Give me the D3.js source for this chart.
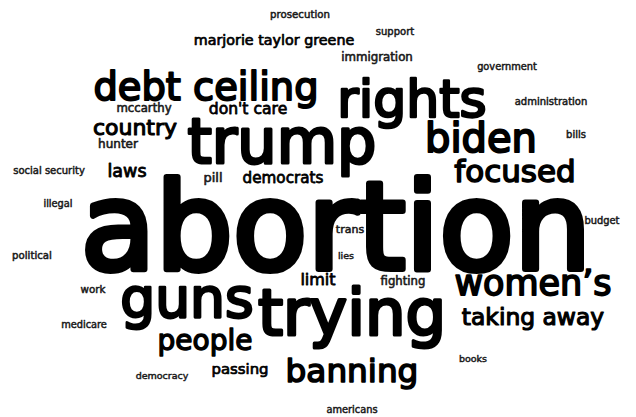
<!DOCTYPE html>
<html>
<head>
<meta charset="utf-8">
<script src="https://cdn.jsdelivr.net/npm/d3@7"></script>
<style>
html,body{margin:0;padding:0;background:#fff;}
svg{display:block;}
</style>
</head>
<body>
<svg id="chart" width="636" height="417"></svg>
<script>
// Data: words and their weights (frequency shown as font size)
const words = ["abortion","trump","rights","debt ceiling","biden","focused","guns","trying","women’s",
  "taking away","people","banning","country","laws","democrats","don't care","marjorie taylor greene",
  "passing","limit","immigration","mccarthy","hunter","pill","fighting","trans","lies","prosecution",
  "support","government","administration","bills","social security","illegal","budget","political",
  "work","medicare","democracy","books","americans"];
const weights = [122,62,52,38.4,40,31,55,64,35,
  23.4,28,32.7,22,17.5,15.2,15.6,14.3,
  14.9,16,11.8,11.7,12,12.9,11.7,11,9.5,10.2,
  10,9.8,10,10,10,9.8,9.9,10.2,
  10.3,9.8,9.5,9.5,9.8];

// Layout (cloud placement): word centre x and baseline y in the 636x417 frame
const layoutX = [336,282,412,206,481,515,187,352,533,
  533,205,352,135,127,283,248,274,
  240,318,377,144,118,213,403,350,346,300,
  395,507,551,576,49,58,602,32,
  93,84,162,473,352];
const layoutY = [269,163,117,100,152,182,317,335,295,
  325,350,382,135,177,183,114,45,
  374,285,61,112,148,182,285,233,259,18,
  35,70,105,138,174,207,224,259,
  293,328,379,362,413];

const W = 636, H = 417;
const x = d3.scaleLinear().domain([0,636]).range([0,W]);
const y = d3.scaleLinear().domain([0,417]).range([0,H]);
const size = d3.scaleLinear().domain([0,122]).range([0,122]);

const data = words.map((w,i)=>({text:w, weight:weights[i], cx:layoutX[i], by:layoutY[i]}));

d3.select("#chart").selectAll("text")
  .data(data)
  .join("text")
  .attr("x", d=>x(d.cx))
  .attr("y", d=>y(d.by))
  .attr("text-anchor","middle")
  .attr("font-family","'DejaVu Sans', sans-serif")
  .attr("font-size", d=>size(d.weight)+"px")
  .attr("fill", d=>d.weight < 13 ? "#1a1a1a" : "#000")
  .attr("stroke", d=>d.weight < 13 ? "#1a1a1a" : "#000")
  .attr("stroke-width", d=>size(d.weight)*0.05)
  .attr("stroke-linejoin","round")
  .text(d=>d.text);
</script>
</body>
</html>
